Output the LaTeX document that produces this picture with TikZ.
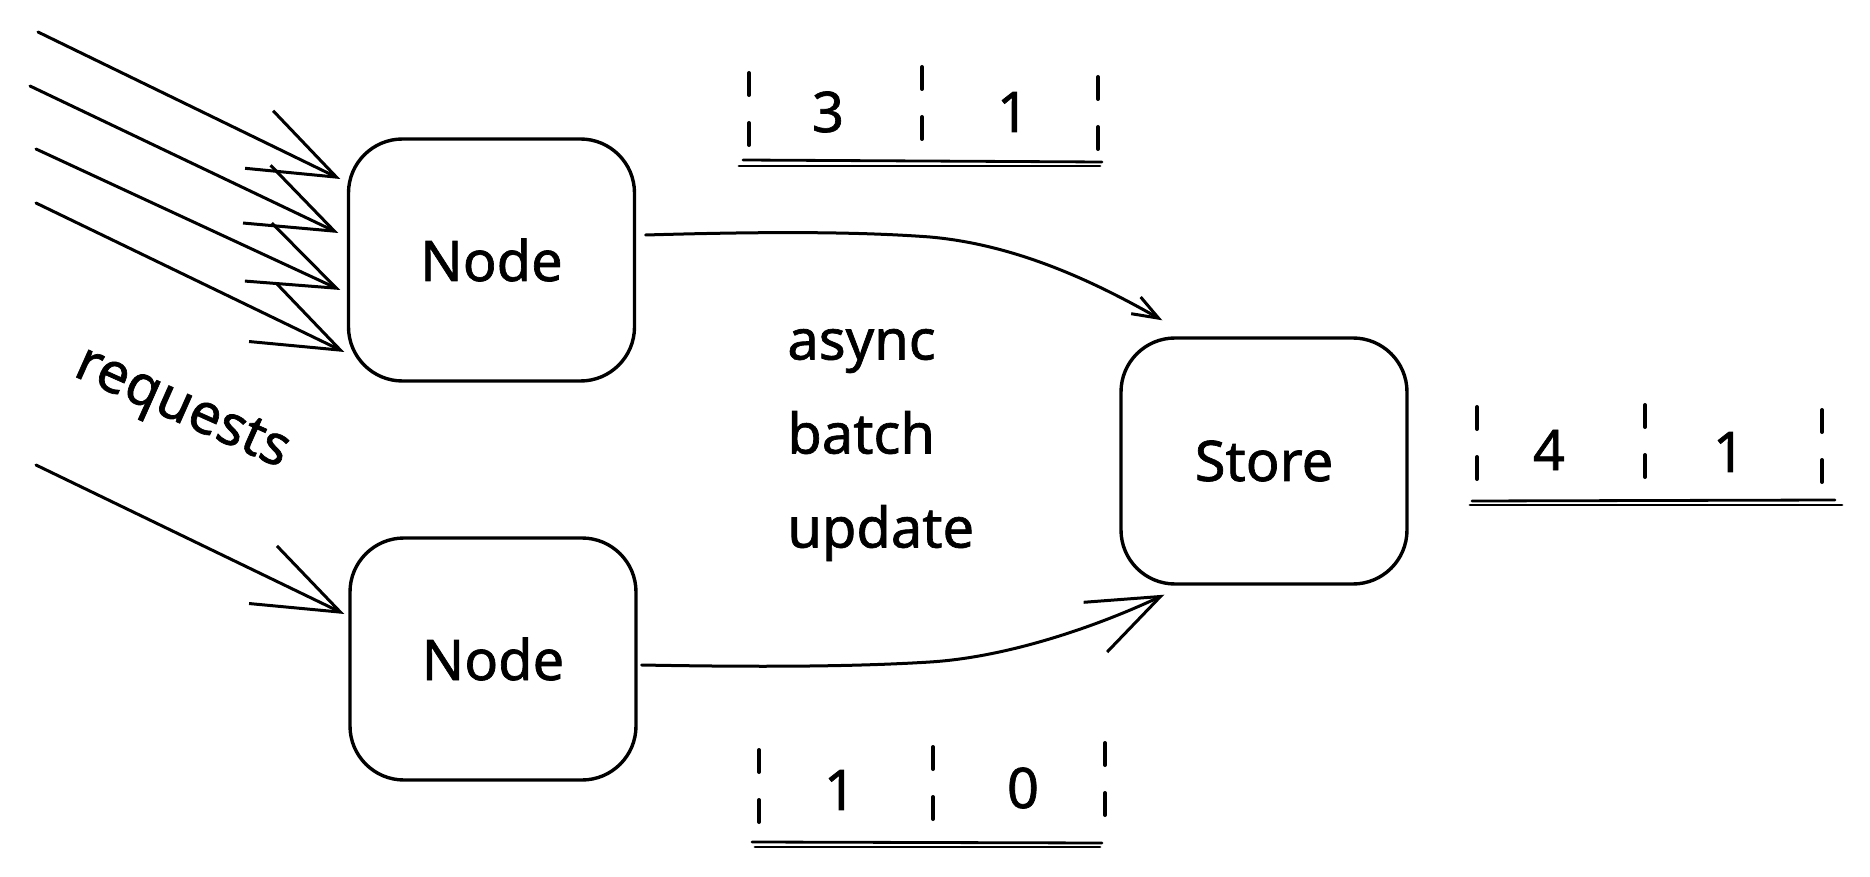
\documentclass[tikz,border=0pt]{standalone}
\usepackage{fontspec}
\setmainfont{Noto Sans}[RawFeature={embolden=1.2}]
\usetikzlibrary{arrows.meta}
\begin{document}
\begin{tikzpicture}[x=0.5pt,y=-0.5pt,
  box/.style={draw, line width=1.7pt, rounded corners=27pt, minimum width=143pt, minimum height=121pt, font=\fontsize{28}{34}\selectfont, inner sep=0pt},
  lbl/.style={font=\fontsize{28}{34}\selectfont, inner sep=0pt},
  req/.style={line width=1.5pt, line cap=round, -{Straight Barb[length=43pt,width=32pt]}},
  ctrtick/.style={line width=2pt, line cap=round, dash pattern=on 11pt off 14pt},
  ctrbase/.style={line width=1.4pt, line cap=round}
]
\useasboundingbox (0,0) rectangle (1870,877);

% boxes
\node[box] (n1) at (491.5,260) {Node};
\node[box] (n2) at (493,659) {Node};
\node[box, minimum height=123pt] (st) at (1264,461) {Store};

% incoming requests
\coordinate (r1) at (38,32);
\coordinate (r2) at (30,86);
\coordinate (r3) at (36,149);
\coordinate (r4) at (36,203);
\coordinate (r5) at (36,465);
\draw[req] (r1) -- ([xshift=-3.25pt,yshift=40.5pt]n1.west);
\draw[req] (r2) -- ([xshift=-4.25pt,yshift=13.5pt]n1.west);
\draw[req] (r3) -- ([xshift=-3.25pt,yshift=-15pt]n1.west);
\draw[req] (r4) -- ([xshift=-1.25pt,yshift=-46pt]n1.west);
\draw[req] (r5) -- ([xshift=-2pt,yshift=22.5pt]n2.west);

\node[lbl, rotate=-24] (rq) at (181,411) {requests};

% node -> store
\draw[line width=1.5pt, line cap=round, -{Straight Barb[length=13pt,width=9.6pt]}]
  ([xshift=4.75pt,yshift=12.5pt]n1.east) .. controls (750,232) and (850,231) .. (930,237)
  .. controls (1020,245) and (1100,285) .. ([xshift=21.5pt,yshift=8pt]st.north west);
\draw[line width=1.5pt, line cap=round, -{Straight Barb[length=36pt,width=27.5pt]}]
  ([xshift=2pt,yshift=-3pt]n2.east) .. controls (750,667) and (850,667) .. (930,662)
  .. controls (1010,657) and (1100,625) .. ([xshift=22.5pt,yshift=-4.5pt]st.south west);

\node[font=\fontsize{28}{47}\selectfont, inner sep=0pt, align=left, anchor=west] (ab) at (787,445) {async\\batch\\update};

% counter top
\draw[ctrtick] (749,73) -- (749,148);
\draw[ctrtick] (922,67) -- (922,143);
\draw[ctrtick] (1098,77) -- (1098,153);
\draw[ctrbase] (743,160) -- (1102,162);
\draw[ctrbase] (739,166) -- (1100,166);
\node[lbl] (c1a) at (828,112) {3};
\node[lbl] (c1b) at (1013,112) {1};

% counter store
\draw[ctrtick] (1477,407) -- (1477,485);
\draw[ctrtick] (1645,405) -- (1645,483);
\draw[ctrtick] (1822,410) -- (1822,488);
\draw[ctrbase] (1472,501) -- (1835,500);
\draw[ctrbase] (1470,505) -- (1842,505);
\node[lbl] (c2a) at (1549,450) {4};
\node[lbl] (c2b) at (1729,452) {1};

% counter bottom
\draw[ctrtick] (759,750) -- (759,828);
\draw[ctrtick] (933,747) -- (933,823);
\draw[ctrtick] (1105,743) -- (1105,822);
\draw[ctrbase] (752,842) -- (1102,843);
\draw[ctrbase] (755,847) -- (1100,847);
\node[lbl] (c3a) at (840,790) {1};
\node[lbl] (c3b) at (1023,788) {0};
\end{tikzpicture}
\end{document}
